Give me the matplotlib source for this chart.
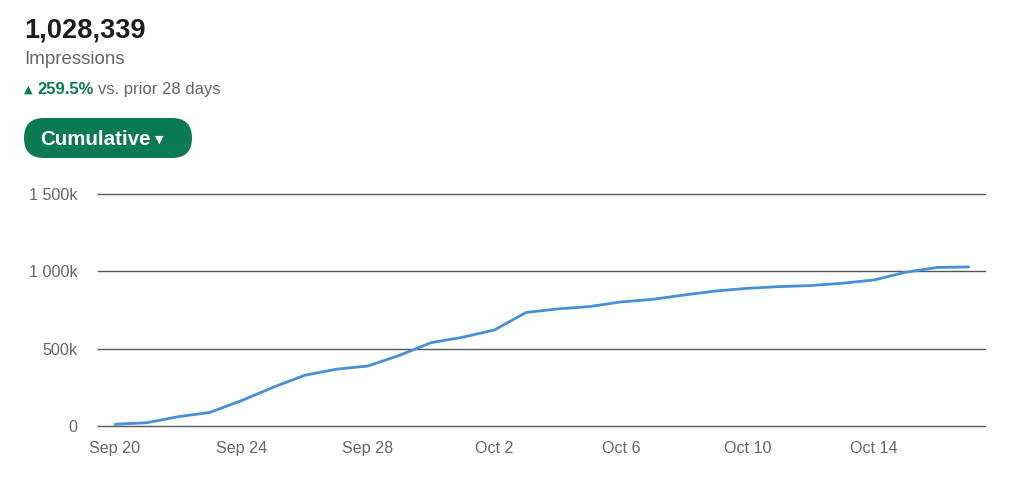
import matplotlib
matplotlib.use("Agg")
import matplotlib.pyplot as plt
from matplotlib.patches import FancyBboxPatch
from matplotlib.transforms import Affine2D
import numpy as np

# ---- data ----
dates = ["Sep 20", "Sep 21", "Sep 22", "Sep 23", "Sep 24", "Sep 25", "Sep 26",
         "Sep 27", "Sep 28", "Sep 29", "Sep 30", "Oct 1", "Oct 2", "Oct 3",
         "Oct 4", "Oct 5", "Oct 6", "Oct 7", "Oct 8", "Oct 9", "Oct 10",
         "Oct 11", "Oct 12", "Oct 13", "Oct 14", "Oct 15", "Oct 16", "Oct 17"]
impressions = [11000, 21000, 60000, 88000, 164000, 250000, 328000,
               367000, 388000, 457000, 539000, 574000, 621000, 734000,
               757000, 772000, 802000, 819000, 847000, 873000, 890000,
               901000, 908000, 923000, 944000, 994000, 1025000, 1028339]
x_tick_labels = ["Sep 20", "Sep 24", "Sep 28", "Oct 2", "Oct 6", "Oct 10", "Oct 14"]
y_ticks = [0, 500000, 1000000, 1500000]
y_tick_labels = ["0", "500k", "1 000k", "1 500k"]
total_text = "1,028,339"
metric_name = "Impressions"
change_text = "259.5%"
change_suffix = "vs. prior 28 days"
button_text = "Cumulative"

W, H = 1031, 488
FONT = ["Liberation Sans", "DejaVu Sans"]
plt.rcParams["font.family"] = FONT

fig = plt.figure(figsize=(W / 100, H / 100), dpi=100)
fig.patch.set_facecolor("white")

# pixel transform (origin top-left)
pix = Affine2D().scale(1, -1).translate(0, H)

def px(x, y):
    return x / W, 1 - y / H

# ---- chart axes ----
left, right, top, bottom = 98, 985, 194, 426
ax = fig.add_axes([left / W, 1 - bottom / H, (right - left) / W, (bottom - top) / H])
xs = np.arange(len(dates))
ax.plot(xs, impressions, color="#4690d8", lw=2.0, solid_capstyle="round",
        solid_joinstyle="round", clip_on=False, zorder=3)

day_px = 31.62
ax.set_xlim(-(115 - left) / day_px, (right - 115) / day_px)
ax.set_ylim(0, 1500000)
ax.set_yticks(y_ticks)
ax.set_yticklabels(y_tick_labels)
ax.set_xticks([dates.index(d) for d in x_tick_labels])
ax.set_xticklabels(x_tick_labels)
ax.yaxis.grid(True, color="#555555", lw=1.0)
for gl in ax.get_ygridlines():
    gl.set_clip_on(False)
ax.set_axisbelow(True)
for s in ax.spines.values():
    s.set_visible(False)
ax.tick_params(axis="both", length=0, colors="#666666", labelsize=11.6)
ax.tick_params(axis="y", pad=14.5)
ax.tick_params(axis="x", pad=10.5)

# ---- header ----
fig.text(*px(24, 37), total_text, fontsize=19.6, fontweight="bold",
         color="#1d1d1d", ha="left", va="baseline")
fig.text(*px(24, 64), metric_name, fontsize=13.5, color="#666666",
         ha="left", va="baseline")
fig.text(*px(24, 93), "\u25B2", fontsize=8, color="#0b7a50",
         ha="left", va="baseline", family=["DejaVu Sans"])
t1 = fig.text(*px(37, 94), change_text, fontsize=12, fontweight="bold",
              color="#0b7a50", ha="left", va="baseline")
fig.canvas.draw()
r = fig.canvas.get_renderer()
bb = t1.get_window_extent(r)
fig.text(*px(bb.x1 + 5, 94), change_suffix, fontsize=12, color="#666666",
         ha="left", va="baseline")

# ---- button ----
btn = FancyBboxPatch((24, 118), 168, 40,
                     boxstyle="round,pad=0,rounding_size=20",
                     transform=pix, facecolor="#0a7a50", edgecolor="none")
fig.patches.append(btn)
t2 = fig.text(*px(40, 145), button_text, fontsize=14.8, fontweight="bold",
              color="white", ha="left", va="baseline")
bb2 = t2.get_window_extent(r)
fig.text(*px(bb2.x1 + 4, 143), "\u25BC", fontsize=8, color="white",
         ha="left", va="baseline", family=["DejaVu Sans"])

fig.savefig("out.png", dpi=100, facecolor="white")
